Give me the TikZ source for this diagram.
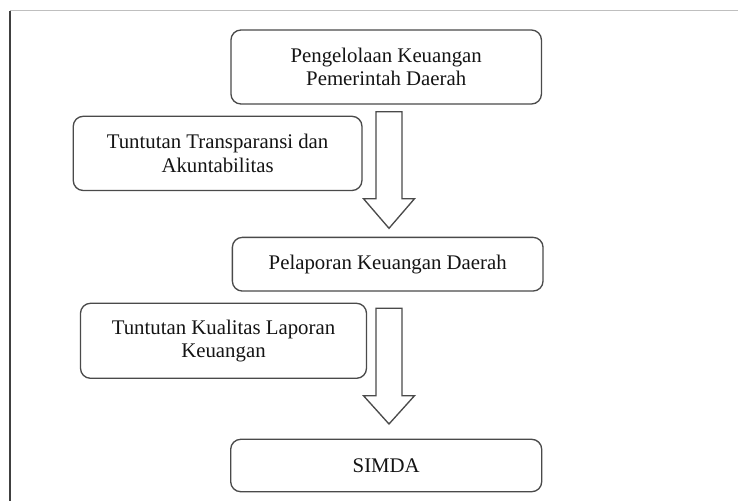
\documentclass[tikz,border=0pt]{standalone}
\usepackage{fontspec}
\setmainfont{Liberation Serif}
\usetikzlibrary{calc}
\definecolor{boxline}{HTML}{4A4A4A}
\definecolor{txt}{HTML}{141414}
\tikzset{
  flowbox/.style={draw=boxline, line width=1pt, rounded corners=7.5pt, fill=white,
    align=center, inner sep=0pt, text=txt,
    font=\fontsize{15.6pt}{17.4pt}\selectfont},
  blockarrow/.style={draw=boxline, line width=1pt, fill=white, line join=miter}
}
\begin{document}
\begin{tikzpicture}[x=0.75pt, y=-0.75pt]
\useasboundingbox (0,0) rectangle (738,501);
% frame
\draw[color=black!25, line width=0.75pt] (10,10.7) -- (738,10.7);
\draw[color=black!75, line width=1.1pt] (10,10.7) -- (10,501);
% boxes
\node[flowbox, minimum width=310.5*0.75pt, minimum height=74*0.75pt] (b1) at (386.2,67)
  {Pengelolaan Keuangan\\Pemerintah Daerah};
\node[flowbox, minimum width=288.7*0.75pt, minimum height=74.2*0.75pt] (b2) at (217.6,153.4)
  {Tuntutan Transparansi dan\\Akuntabilitas};
\node[flowbox, minimum width=310.7*0.75pt, minimum height=53.7*0.75pt] (b3) at (387.7,264.2)
  {Pelaporan Keuangan Daerah};
\node[flowbox, minimum width=286*0.75pt, minimum height=75*0.75pt] (b4) at (223.5,340.8)
  {Tuntutan Kualitas Laporan\\Keuangan};
\node[flowbox, minimum width=311*0.75pt, minimum height=52.4*0.75pt] (b5) at (386.2,465.5)
  {SIMDA};
% block arrows
\coordinate (a1top) at (389,111.7);
\coordinate (a1tip) at (389,228.3);
\draw[blockarrow] ($(a1top)+(-13,0)$) -- ($(a1top)+(13,0)$) -- ($(a1tip)+(13,-29.6)$)
  -- ($(a1tip)+(25.5,-29.6)$) -- (a1tip) -- ($(a1tip)+(-25.5,-29.6)$)
  -- ($(a1tip)+(-13,-29.6)$) -- cycle;
\coordinate (a2top) at (389,308.3);
\coordinate (a2tip) at (389,424);
\draw[blockarrow] ($(a2top)+(-13,0)$) -- ($(a2top)+(13,0)$) -- ($(a2tip)+(13,-28.3)$)
  -- ($(a2tip)+(25.5,-28.3)$) -- (a2tip) -- ($(a2tip)+(-25.5,-28.3)$)
  -- ($(a2tip)+(-13,-28.3)$) -- cycle;
\end{tikzpicture}
\end{document}
